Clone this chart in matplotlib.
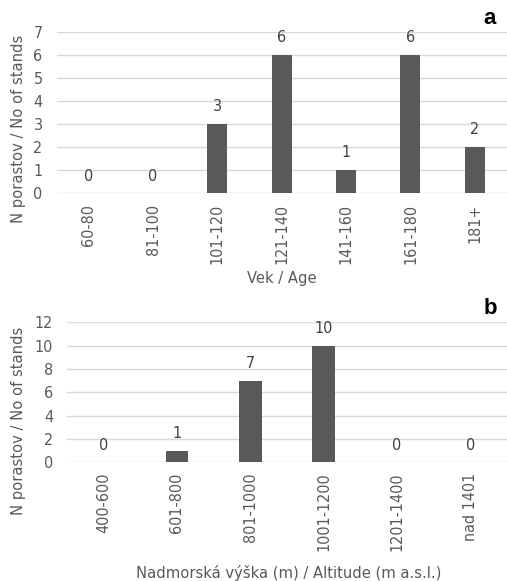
import matplotlib
matplotlib.use("Agg")
import matplotlib.pyplot as plt

age_cats = ["60-80", "81-100", "101-120", "121-140", "141-160", "161-180", "181+"]
age_vals = [0, 0, 3, 6, 1, 6, 2]
age_yticks = [0, 1, 2, 3, 4, 5, 6, 7]

alt_cats = ["400-600", "601-800", "801-1000", "1001-1200", "1201-1400", "nad 1401"]
alt_vals = [0, 1, 7, 10, 0, 0]
alt_yticks = [0, 2, 4, 6, 8, 10, 12]

plt.rcParams['font.family'] = ['DejaVu Sans']
plt.rcParams['font.stretch'] = 'condensed'
TXT = '#595959'
BAR = '#595959'
GRID = '#d9d9d9'
FS = 11.5

W, H = 507, 581
fig = plt.figure(figsize=(W/100, H/100), dpi=100)

def px_axes(left, top, right, bottom):
    return fig.add_axes([left/W, 1-bottom/H, (right-left)/W, (bottom-top)/H])

def draw(ax, cats, vals, yticks):
    x = list(range(len(cats)))
    ax.bar(x, vals, width=0.31, color=BAR, zorder=3)
    ax.set_xlim(-0.5, len(cats)-0.5)
    ax.set_ylim(yticks[0], yticks[-1])
    ax.set_yticks(yticks)
    ax.set_xticks(x)
    ax.set_xticklabels(cats, rotation=90, fontsize=FS, color=TXT)
    ax.tick_params(axis='y', length=0, pad=10, labelsize=FS, labelcolor=TXT)
    ax.tick_params(axis='x', length=0, pad=7.5)
    for s in ax.spines.values():
        s.set_visible(False)
    ax.grid(axis='y', color=GRID, linewidth=1, zorder=0)
    ax.set_axisbelow(True)
    for xi, v in zip(x, vals):
        ax.annotate(str(v), (xi, v), xytext=(0, 7), textcoords='offset points',
                    ha='center', va='bottom', fontsize=FS, color='#404040')
    for lbl in ax.get_yticklabels():
        lbl.set_clip_on(False)

ax1 = px_axes(56.5, 31.7, 507, 193.3)
draw(ax1, age_cats, age_vals, age_yticks)
ax2 = px_axes(67, 322.3, 507, 462.3)
draw(ax2, alt_cats, alt_vals, alt_yticks)

fig.text(18.5/W, 1-129/H, "N porastov / No of stands", rotation=90, ha='center', va='center',
         fontsize=11.8, color=TXT)
fig.text(18.5/W, 1-421/H, "N porastov / No of stands", rotation=90, ha='center', va='center',
         fontsize=11.8, color=TXT)
fig.text(282/W, 1-279/H, "Vek / Age", ha='center', va='center', fontsize=11.8, color=TXT)
fig.text(288.5/W, 1-573/H, "Nadmorská výška (m) / Altitude (m a.s.l.)", ha='center', va='center',
         fontsize=11.8, color=TXT)
fig.text(490/W, 1-18/H, "a", ha='center', va='center', fontsize=16, fontweight='bold',
         color='black', family=['Liberation Sans'], fontstretch='normal')
fig.text(490/W, 1-308/H, "b", ha='center', va='center', fontsize=16, fontweight='bold',
         color='black', family=['Liberation Sans'], fontstretch='normal')

fig.savefig("out.png", dpi=100)
